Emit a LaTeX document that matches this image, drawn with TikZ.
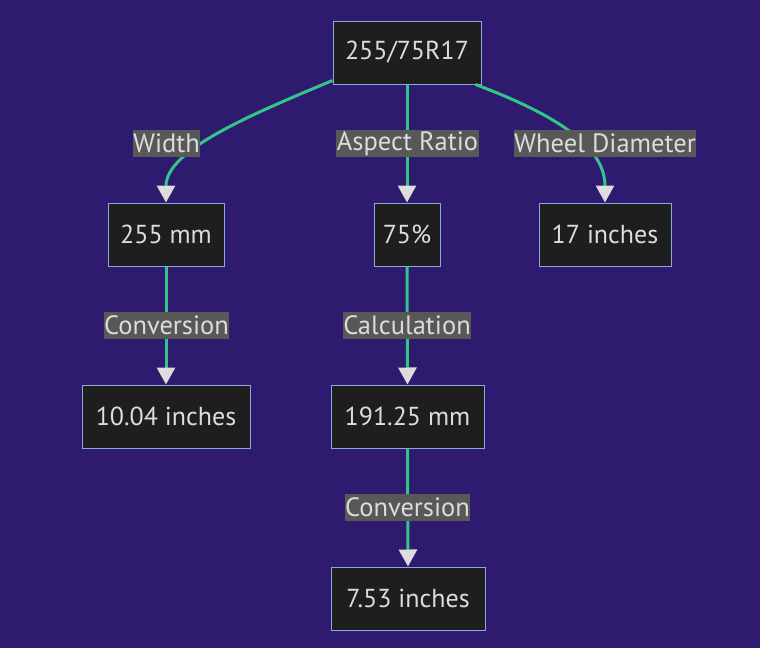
\documentclass[tikz,border=0pt]{standalone}
\usepackage{fontspec}
\setmainfont{PT Sans}
\usetikzlibrary{arrows.meta}
\definecolor{bgc}{HTML}{2E1A6E}
\definecolor{edgec}{HTML}{33C48A}
\definecolor{boxc}{HTML}{1E1E1E}
\definecolor{borderc}{HTML}{8AAADF}
\definecolor{lblc}{HTML}{585858}
\definecolor{txtc}{HTML}{DCDCDC}
\definecolor{tipc}{HTML}{DDDDDD}
\tikzset{
  box/.style={draw=borderc, line width=1pt, fill=boxc, text=txtc, minimum height=63pt, inner sep=0pt, font=\fontsize{26}{29}\selectfont},
  lbl/.style={fill=lblc, text=txtc, minimum height=27pt, inner xsep=0.5pt, inner ysep=0pt, font=\fontsize{26.5}{29}\selectfont},
  edge/.style={draw=edgec, line width=3pt, -{Triangle[length=17pt,width=18pt,color=tipc,fill=tipc]}}
}
\begin{document}
\begin{tikzpicture}[x=1pt,y=-1pt]
\fill[bgc] (0,0) rectangle (760,648);
\useasboundingbox (0,0) rectangle (760,648);
\node[box, minimum width=148pt] (root) at (407,52.5) {255/75R17};
\node[box, minimum width=116pt] (w) at (166,234.5) {255 mm};
\node[box, minimum width=66pt] (ar) at (407,234.5) {75\%};
\node[box, minimum width=132pt] (wd) at (605,234.5) {17 inches};
\node[box, minimum width=168pt] (wi) at (166,416.5) {10.04 inches};
\node[box, minimum width=153pt] (calc) at (407.5,416.5) {191.25 mm};
\node[box, minimum width=154pt] (hi) at (408,598.5) {7.53 inches};
\coordinate (lw) at (166.5,143.5);
\coordinate (lar) at (407.5,143.5);
\coordinate (lwd) at (605,143.5);
\coordinate (lc1) at (166.5,325.5);
\coordinate (lcalc) at (407,325.5);
\coordinate (lc2) at (407.5,507.5);
\draw[edge] ([yshift=4pt]root.south west) .. controls (250,115) and (166,150) .. (w.north);
\draw[edge] (root.south) -- (ar.north);
\draw[edge] ([xshift=-6pt]root.south east) .. controls (565,118) and (605,150) .. (wd.north);
\draw[edge] (w.south) -- (wi.north);
\draw[edge] (ar.south) -- (calc.north);
\draw[edge] (calc.south) -- (hi.north);
\node[lbl] (nw) at (lw) {Width};
\node[lbl] (nar) at (lar) {Aspect Ratio};
\node[lbl] (nwd) at (lwd) {Wheel Diameter};
\node[lbl] (nc1) at (lc1) {Conversion};
\node[lbl] (ncalc) at (lcalc) {Calculation};
\node[lbl] (nc2) at (lc2) {Conversion};
\end{tikzpicture}
\end{document}
